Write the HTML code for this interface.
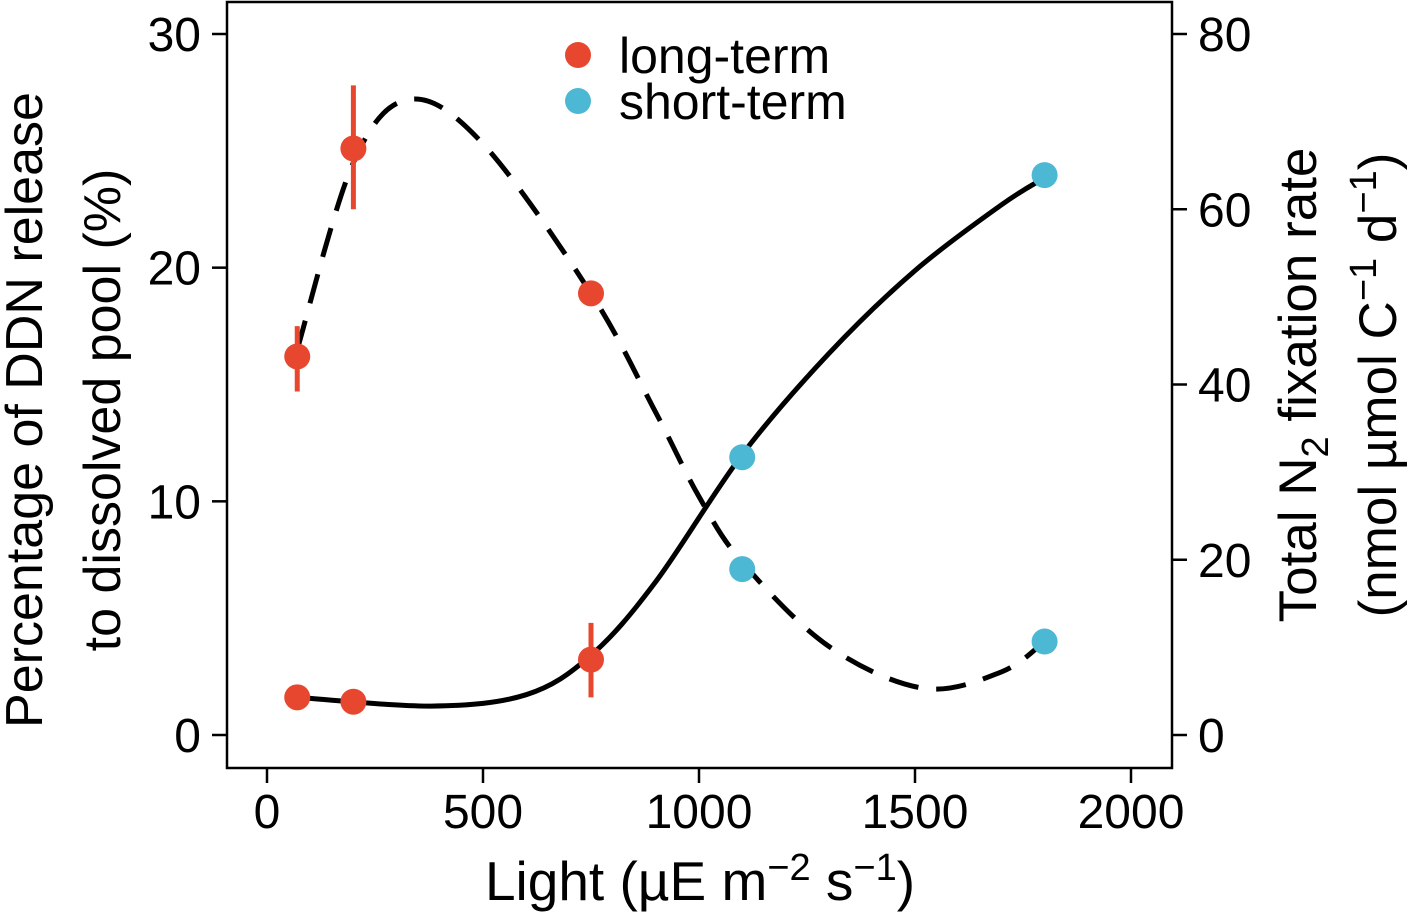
<!DOCTYPE html>
<html><head><meta charset="utf-8"><style>
html,body{margin:0;padding:0;background:#fff}
svg{display:block;font-family:"Liberation Sans",Arial,sans-serif}
</style></head><body>
<svg id="chart" width="1410" height="914" viewBox="0 0 1410 914" xmlns="http://www.w3.org/2000/svg">
<g id="axes"></g><g id="marks"></g>
<g>
<circle cx="578" cy="55" r="13" fill="#e8472f"/>
<text x="619" y="73" font-size="50">long-term</text>
<circle cx="578" cy="101" r="13" fill="#4db8d4"/>
<text x="619" y="119" font-size="50">short-term</text>
</g>
<text x="700" y="900" font-size="55" text-anchor="middle">Light (µE m<tspan dy="-20" font-size="38">−2</tspan><tspan dy="20"> s</tspan><tspan dy="-20" font-size="38">−1</tspan><tspan dy="20">)</tspan></text>
<g transform="translate(42,410) rotate(-90)">
<text x="0" y="0" font-size="52" text-anchor="middle">Percentage of DDN release</text>
<text x="0" y="78" font-size="52" text-anchor="middle">to dissolved pool (%)</text>
</g>
<g transform="translate(1316,385) rotate(-90)">
<text x="0" y="0" font-size="53" text-anchor="middle">Total N<tspan dy="12" font-size="38">2</tspan><tspan dy="-12"> fixation rate</tspan></text>
<text x="0" y="80" font-size="53" text-anchor="middle">(nmol µmol C<tspan dy="-20" font-size="38">−1</tspan><tspan dy="20"> d</tspan><tspan dy="-20" font-size="38">−1</tspan><tspan dy="20">)</tspan></text>
</g>
</svg>
<script>
const xTicks=[0,500,1000,1500,2000];
const leftTicks=[0,10,20,30];
const rightTicks=[0,20,40,60,80];
const pctX=[70,200,750,1100,1800];
const pctY=[16.2,25.1,18.9,7.1,4.0];
const pctErrLo=[14.7,22.5,null,null,null];
const pctErrHi=[17.5,27.8,null,null,null];
const fixX=[70,200,750,1100,1800];
const fixY=[4.3,3.8,8.6,31.7,63.9];
const fixErrLo=[null,null,4.3,null,null];
const fixErrHi=[null,null,12.8,null,null];
const groups=["long-term","long-term","long-term","short-term","short-term"];
const pctFitX=[70,200,330,500,750,900,1000,1100,1300,1520,1700,1800];
const pctFitY=[16.5,24.5,27.2,25.3,18.9,13.8,10.2,7.4,3.8,2.0,2.7,4.0];
const fixFitX=[70,380,600,750,900,1100,1300,1500,1700,1800];
const fixFitY=[4.3,3.3,4.6,9.1,17.5,32.0,43.5,53,60.5,63.6];

const NS="http://www.w3.org/2000/svg";
const L=227,R=1172,T=2,B=768;
const sx=v=>267+v*(1131-267)/2000;
const syL=v=>735-v*(735-34)/30;
const syR=v=>735-v*(735-34)/80;
const colors={"long-term":"#e8472f","short-term":"#4db8d4"};
function mk(p,tag,a){const e=document.createElementNS(NS,tag);for(const k in a)e.setAttribute(k,a[k]);p.appendChild(e);return e;}
const ax=document.getElementById('axes'),mg=document.getElementById('marks');
let f=mk(ax,'rect',{x:L,y:T,width:R-L,height:B-T,fill:'none',stroke:'#000','stroke-width':2.5});


xTicks.forEach(v=>{let t=mk(ax,'line',{x1:sx(v),x2:sx(v),y1:B,y2:B+15,stroke:'#000','stroke-width':2.5});


let l=mk(ax,'text',{x:sx(v),y:828,'font-size':48,'text-anchor':'middle'});l.textContent=v;

});
leftTicks.forEach(v=>{let t=mk(ax,'line',{x1:L-15,x2:L,y1:syL(v),y2:syL(v),stroke:'#000','stroke-width':2.5});


let l=mk(ax,'text',{x:201,y:syL(v)+17,'font-size':48,'text-anchor':'end'});l.textContent=v;

});
rightTicks.forEach(v=>{let t=mk(ax,'line',{x1:R,x2:R+15,y1:syR(v),y2:syR(v),stroke:'#000','stroke-width':2.5});


let l=mk(ax,'text',{x:1198,y:syR(v)+17,'font-size':48,'text-anchor':'start'});l.textContent=v;

});
function smooth(xs,ys,sy){const p=xs.map((x,i)=>[sx(x),sy(ys[i])]);let d='M'+p[0][0]+','+p[0][1];
for(let i=0;i<p.length-1;i++){const p0=p[i-1]||p[i],p1=p[i],p2=p[i+1],p3=p[i+2]||p2;
d+=' C'+(p1[0]+(p2[0]-p0[0])/6)+','+(p1[1]+(p2[1]-p0[1])/6)+' '+(p2[0]-(p3[0]-p1[0])/6)+','+(p2[1]-(p3[1]-p1[1])/6)+' '+p2[0]+','+p2[1];}return d;}
let c1=mk(mg,'path',{d:smooth(pctFitX,pctFitY,syL),fill:'none',stroke:'#000','stroke-width':5,'stroke-dasharray':'30,18'});


let c2=mk(mg,'path',{d:smooth(fixFitX,fixFitY,syR),fill:'none',stroke:'#000','stroke-width':5});


function series(xs,ys,lo,hi,sy,name){xs.forEach((x,i)=>{const col=colors[groups[i]];
if(lo[i]!=null){let e=mk(mg,'line',{x1:sx(x),x2:sx(x),y1:sy(lo[i]),y2:sy(hi[i]),stroke:col,'stroke-width':5});

}
let c=mk(mg,'circle',{cx:sx(x),cy:sy(ys[i]),r:13,fill:col});

});}
series(pctX,pctY,pctErrLo,pctErrHi,syL,'percentage');
series(fixX,fixY,fixErrLo,fixErrHi,syR,'fixation');
</script>
</body></html>
